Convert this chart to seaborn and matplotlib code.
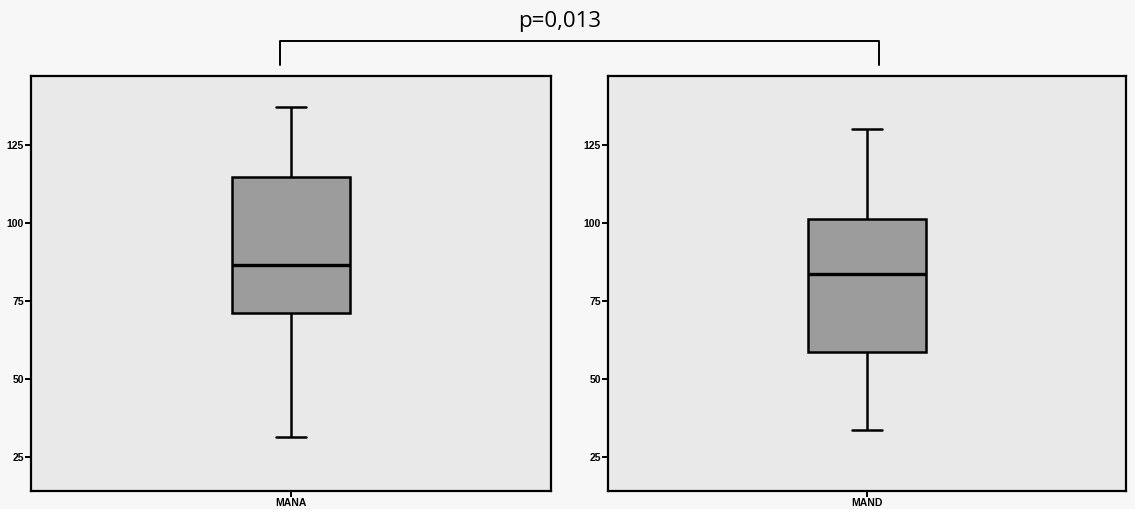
import numpy as np
import pandas as pd
import matplotlib
matplotlib.use("Agg")
import matplotlib.pyplot as plt
import seaborn as sns
from matplotlib.lines import Line2D

# five-number summaries (min, Q1, median, Q3, max)
groups = ["MANA", "MAND"]
mana_vals = [31.4, 71.2, 86.5, 114.7, 137.1]
mand_vals = [33.7, 58.7, 83.7, 101.3, 130.1]
yticks = [25, 50, 75, 100, 125]
p_label = "p=0,013"

sns.set_style("white")
plt.rcParams["font.family"] = ["Liberation Sans", "DejaVu Sans"]

fig = plt.figure(figsize=(11.35, 5.09), dpi=100)
fig.patch.set_facecolor("#f7f7f7")

W, H = 1135, 509
ax1 = fig.add_axes([31 / W, (H - 491) / H, 520 / W, 415 / H])
ax2 = fig.add_axes([608 / W, (H - 491) / H, 518 / W, 415 / H])

for ax, name, vals in [(ax1, groups[0], mana_vals), (ax2, groups[1], mand_vals)]:
    df = pd.DataFrame({"group": [name] * len(vals), "value": vals})
    sns.boxplot(data=df, x="group", y="value", ax=ax, width=0.227, whis=np.inf,
                color="#9c9c9c", saturation=1, linewidth=1.8, linecolor="black",
                capwidths=0.056,
                medianprops={"linewidth": 2.4, "color": "black"})
    ax.set_facecolor("#e9e9e9")
    ax.set_xlim(-0.5, 0.5)
    ax.set_ylim(14, 147)
    ax.set_yticks(yticks)
    ax.set_xlabel("")
    ax.set_ylabel("")
    for s in ax.spines.values():
        s.set_visible(True)
        s.set_linewidth(1.6)
        s.set_color("black")
    ax.tick_params(axis="both", direction="out", length=4, width=1.4, color="black",
                   labelsize=7.5, labelcolor="black", pad=1, left=True, bottom=True)
    for lab in ax.get_xticklabels() + ax.get_yticklabels():
        lab.set_fontweight("bold")
        lab.set_fontstretch("condensed")

# significance bracket above the two panels
y_top = (H - 41) / H
y_bot = (H - 65) / H
fig.add_artist(Line2D([280 / W, 280 / W, 879 / W, 879 / W], [y_bot, y_top, y_top, y_bot],
                      transform=fig.transFigure, color="black", linewidth=1.4))
fig.text(560 / W, (H - 21) / H, p_label, ha="center", va="center", fontsize=16,
         color="black", family=["Open Sans", "DejaVu Sans"])

fig.savefig("out.png", dpi=100, facecolor=fig.get_facecolor())
